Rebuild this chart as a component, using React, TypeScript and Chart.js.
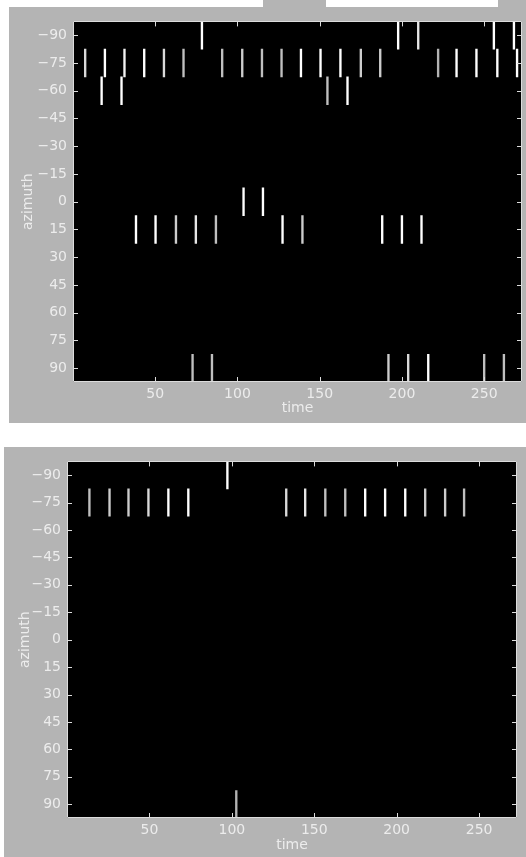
import React, { useEffect, useRef } from "react";
import { Chart, registerables } from "chart.js";

Chart.register(...registerables);

// ---- axis ticks ----
const X_TICKS = [50, 100, 150, 200, 250];
const Y_TICKS = [-90, -75, -60, -45, -30, -15, 0, 15, 30, 45, 60, 75, 90];
const BIN = 15;
const X_MIN = 0;
const X_MAX = 273;

// ---- top panel: event times per azimuth row, and their intensities ----
const TOP_M90_T = [78.4, 197.7, 209.9, 255.9, 268.1];
const TOP_M90_I = [1, 1, 0.9, 1, 1];
const TOP_M75_T = [7.4, 19.4, 31.3, 43.3, 55.3, 67.2, 90.7, 102.9, 114.9, 126.8, 138.6, 150.5, 162.6, 175, 186.8, 222, 233.2, 245.3, 258, 270];
const TOP_M75_I = [0.85, 1, 0.95, 1, 0.85, 0.75, 0.75, 0.8, 0.75, 0.75, 1, 1, 1, 0.8, 0.8, 0.7, 1, 1, 1, 1];
const TOP_M60_T = [17.4, 29.5, 154.7, 166.9];
const TOP_M60_I = [1, 1, 0.75, 1];
const TOP_0_T = [103.7, 115.5];
const TOP_0_I = [1, 1];
const TOP_15_T = [38.3, 50.2, 62.6, 74.7, 86.9, 127.4, 139.5, 188, 200, 211.9];
const TOP_15_I = [1, 1, 0.8, 0.9, 0.75, 1, 0.8, 1, 1, 1];
const TOP_90_T = [72.7, 84.5, 191.8, 203.8, 216, 250, 262];
const TOP_90_I = [0.75, 0.75, 0.8, 0.85, 1, 0.75, 0.75];

// ---- bottom panel ----
const BOT_M90_T = [97.3];
const BOT_M90_I = [1];
const BOT_M75_T = [13.6, 25.8, 37.3, 49.4, 61.5, 73.6, 133, 144.5, 156.7, 168.8, 180.9, 193, 205.2, 217.3, 229.4, 240.9];
const BOT_M75_I = [0.75, 0.8, 0.8, 0.85, 1, 1, 0.85, 0.9, 0.75, 0.75, 1, 1, 1, 0.8, 0.8, 0.75];
const BOT_90_T = [102.7];
const BOT_90_I = [0.7];

type Row = [number, number[], number[]];

const TOP_ROWS: Row[] = [
  [-90, TOP_M90_T, TOP_M90_I],
  [-75, TOP_M75_T, TOP_M75_I],
  [-60, TOP_M60_T, TOP_M60_I],
  [0, TOP_0_T, TOP_0_I],
  [15, TOP_15_T, TOP_15_I],
  [90, TOP_90_T, TOP_90_I],
];

const BOT_ROWS: Row[] = [
  [-90, BOT_M90_T, BOT_M90_I],
  [-75, BOT_M75_T, BOT_M75_I],
  [90, BOT_90_T, BOT_90_I],
];

const PANEL_BG = "#b4b4b4";
const TEXT = "#ececec";
const AXIS = "#dcdcdc";
const FONT = "DejaVu Sans";

const gray = (i: number) => {
  const g = Math.round(255 * i);
  return `rgb(${g},${g},${g})`;
};

const fmt = (v: number) => (v < 0 ? "\u2212" + Math.abs(v) : String(v));

const framePlugin = {
  id: "frame",
  beforeDatasetsDraw(chart: any) {
    const { ctx, chartArea: a } = chart;
    ctx.save();
    ctx.fillStyle = "#000";
    ctx.fillRect(a.left, a.top, a.right - a.left, a.bottom - a.top);
    ctx.restore();
  },
  afterDatasetsDraw(chart: any) {
    const { ctx, chartArea: a, scales } = chart;
    const x = scales.x;
    const y = scales.y;
    const L = 5;
    ctx.save();
    ctx.strokeStyle = AXIS;
    ctx.lineWidth = 1;
    ctx.beginPath();
    ctx.rect(Math.round(a.left) + 0.5, Math.round(a.top) + 0.5, Math.round(a.right - a.left) - 1, Math.round(a.bottom - a.top) - 1);
    for (const v of X_TICKS) {
      const px = Math.round(x.getPixelForValue(v)) + 0.5;
      ctx.moveTo(px, a.bottom);
      ctx.lineTo(px, a.bottom - L);
      ctx.moveTo(px, a.top);
      ctx.lineTo(px, a.top + L);
    }
    for (const v of Y_TICKS) {
      const py = Math.round(y.getPixelForValue(v)) + 0.5;
      ctx.moveTo(a.left, py);
      ctx.lineTo(a.left + L, py);
      ctx.moveTo(a.right, py);
      ctx.lineTo(a.right - L, py);
    }
    ctx.stroke();
    ctx.restore();
  },
};

type PanelProps = {
  rows: Row[];
  left: number;
  top: number;
  width: number;
  height: number;
  padTop: number;
  padRight: number;
  yW: number;
  xH: number;
  yTitlePad: number;
  xTitlePad: number;
};

function Panel(p: PanelProps) {
  const ref = useRef<HTMLCanvasElement | null>(null);
  useEffect(() => {
    if (!ref.current) return;
    const datasets = p.rows.map(([az, times, ints]) => ({
      data: times.map((t) => ({ x: t, y: [az - BIN / 2, az + BIN / 2] })),
      backgroundColor: ints.map(gray),
      borderWidth: 0,
      barThickness: 1.7,
      grouped: false,
    }));
    const tickFont = { family: FONT, size: 14 };
    const chart = new Chart(ref.current, {
      type: "bar",
      data: { datasets } as any,
      options: {
        animation: false,
        responsive: false,
        maintainAspectRatio: false,
        events: [],
        layout: { padding: { top: p.padTop, right: p.padRight, left: 0, bottom: 0 } },
        plugins: { legend: { display: false }, tooltip: { enabled: false } },
        scales: {
          x: {
            type: "linear",
            min: X_MIN,
            max: X_MAX,
            offset: false,
            grid: { display: false, drawTicks: false },
            border: { display: false },
            afterBuildTicks: (s: any) => {
              s.ticks = X_TICKS.map((v) => ({ value: v }));
            },
            afterFit: (s: any) => {
              s.height = p.xH;
            },
            ticks: { color: TEXT, font: tickFont, padding: 4, maxRotation: 0, autoSkip: false, callback: (v: any) => fmt(Number(v)) },
            title: { display: true, text: "time", color: TEXT, font: { family: FONT, size: 14 }, padding: { top: 0, bottom: p.xTitlePad } },
          },
          y: {
            type: "linear",
            reverse: true,
            min: -90 - BIN / 2,
            max: 90 + BIN / 2,
            grid: { display: false, drawTicks: false },
            border: { display: false },
            afterBuildTicks: (s: any) => {
              s.ticks = Y_TICKS.map((v) => ({ value: v }));
            },
            afterFit: (s: any) => {
              s.width = p.yW;
            },
            ticks: { color: TEXT, font: tickFont, padding: 6, autoSkip: false, callback: (v: any) => fmt(Number(v)) },
            title: { display: true, text: "azimuth", color: TEXT, font: { family: FONT, size: 14 }, padding: { top: p.yTitlePad, bottom: 0 } },
          },
        },
      } as any,
      plugins: [framePlugin],
    });
    return () => chart.destroy();
  }, []);
  return (
    <div style={{ position: "absolute", left: p.left, top: p.top, width: p.width, height: p.height, background: PANEL_BG }}>
      <canvas ref={ref} width={p.width} height={p.height} style={{ display: "block", width: p.width, height: p.height }} />
    </div>
  );
}

export default function App() {
  return (
    <div style={{ position: "absolute", left: 0, top: 0, width: 526, height: 857, background: "#fff", overflow: "hidden" }}>
      <div style={{ position: "absolute", left: 263, top: 0, width: 63, height: 7, background: PANEL_BG }} />
      <div style={{ position: "absolute", left: 498, top: 0, width: 28, height: 7, background: PANEL_BG }} />
      <Panel rows={TOP_ROWS} left={9} top={7} width={517} height={416} padTop={12} padRight={4} yW={64} xH={41} yTitlePad={10.6} xTitlePad={6.6} />
      <Panel rows={BOT_ROWS} left={4} top={447} width={522} height={410} padTop={8} padRight={9} yW={63} xH={39} yTitlePad={12.6} xTitlePad={3.6} />
    </div>
  );
}
